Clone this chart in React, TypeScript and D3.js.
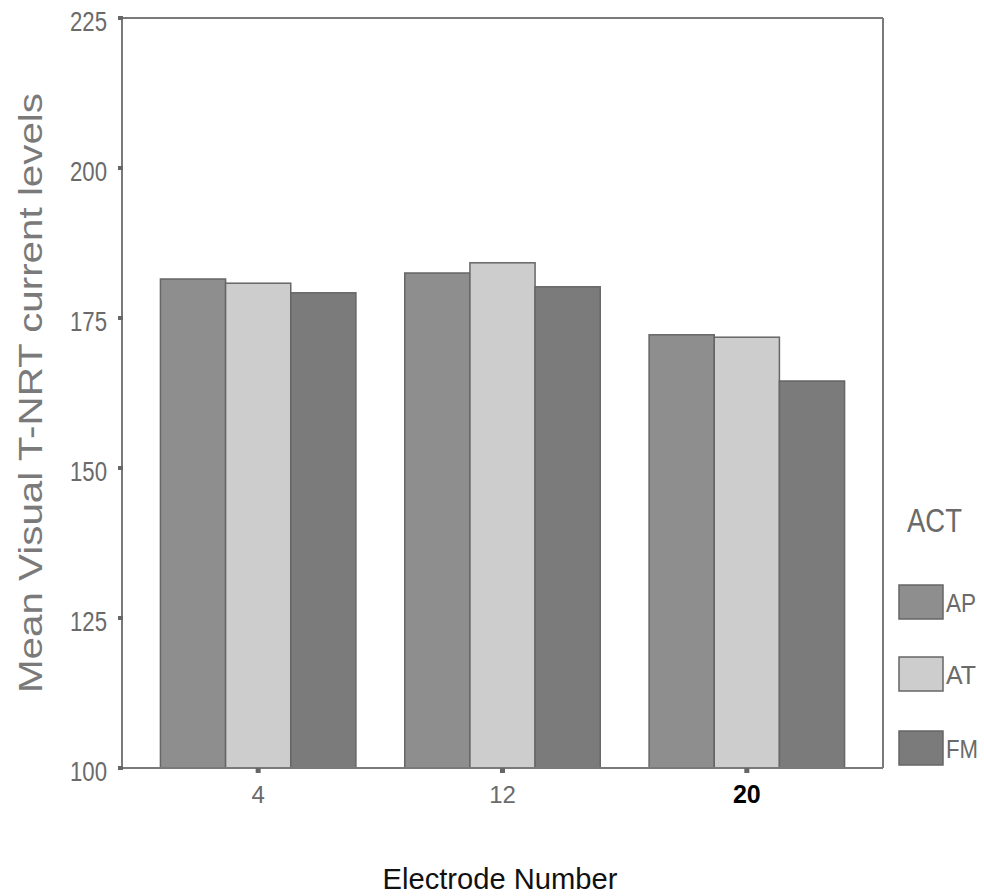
import React from "react";
import * as d3 from "d3";

const categories = ["4", "12", "20"];
const seriesNames = ["AP", "AT", "FM"];
const apValues = [181.5, 182.5, 172.2];
const atValues = [180.8, 184.2, 171.8];
const fmValues = [179.2, 180.2, 164.5];
const yTicks = [100, 125, 150, 175, 200, 225];

const seriesValues = [apValues, atValues, fmValues];
const fills = ["#8e8e8e", "#cdcdcd", "#7b7b7b"];
const FONT = "'Liberation Sans', Arial, Helvetica, sans-serif";

export default function App() {
  const W = 984, H = 896;
  const left = 122, right = 883, top = 18, bottom = 768;
  const y = d3.scaleLinear().domain([100, 225]).range([bottom, top]);
  const x = d3.scaleBand().domain(categories).range([136, 869]).paddingInner(0.2).paddingOuter(0.1);
  const xs = d3.scaleBand().domain(seriesNames).range([0, x.bandwidth()]);
  const axisColor = "#7a7a7a";

  return (
    <svg width={W} height={H} style={{ position: "absolute", left: 0, top: 0, background: "#fff" }}>
      {/* bars */}
      {categories.map((c, ci) => (
        <g key={c} transform={`translate(${x(c)},0)`}>
          {seriesNames.map((s, si) => {
            const v = seriesValues[si][ci];
            return (
              <rect key={s} x={xs(s)} y={y(v)} width={xs.bandwidth()} height={bottom - y(v)}
                fill={fills[si]} stroke="#666" strokeWidth={1.5} />
            );
          })}
        </g>
      ))}
      {/* frame */}
      <line x1={left} x2={right} y1={top} y2={top} stroke={axisColor} strokeWidth={2} />
      <line x1={right} x2={right} y1={top} y2={bottom} stroke={axisColor} strokeWidth={2} />
      <line x1={left} x2={right} y1={bottom} y2={bottom} stroke={axisColor} strokeWidth={2} />
      <line x1={left} x2={left} y1={top} y2={bottom} stroke={axisColor} strokeWidth={2} />
      {/* y ticks */}
      {yTicks.map((t) => (
        <g key={t}>
          <rect x={left - 4} y={y(t) - 2} width={5} height={4} fill="#666" />
          <text x={107} y={y(t) + 13} textAnchor="end" fontFamily={FONT} fontSize={27} fill="#6a6a6a"
            textLength={37} lengthAdjust="spacingAndGlyphs">{t}</text>
        </g>
      ))}
      {/* x ticks */}
      {categories.map((c) => {
        const cx = (x(c) as number) + x.bandwidth() / 2;
        const bold = c === "20";
        return (
          <g key={c}>
            <rect x={cx - 2.5} y={bottom} width={5} height={5} fill="#666" />
            <text x={cx} y={803} textAnchor="middle" fontFamily={FONT} fontSize={bold ? 25 : 24}
              fontWeight={bold ? "bold" : "normal"} fill={bold ? "#000" : "#6a6a6a"}>{c}</text>
          </g>
        );
      })}
      {/* y axis title */}
      <text transform={`translate(42,${(top + bottom) / 2}) rotate(-90)`} textAnchor="middle" fontFamily={FONT} fontSize={34}
        fill="#7a7a7a" textLength={600} lengthAdjust="spacingAndGlyphs">Mean Visual T-NRT current levels</text>
      {/* x axis title */}
      <text x={500} y={889} textAnchor="middle" fontFamily={FONT} fontSize={30} fill="#111"
        textLength={235} lengthAdjust="spacingAndGlyphs">Electrode Number</text>
      {/* legend */}
      <text x={907} y={532} fontFamily={FONT} fontSize={34} fill="#6a6a6a"
        textLength={55} lengthAdjust="spacingAndGlyphs">ACT</text>
      {seriesNames.map((s, si) => {
        const sy = [585, 657, 731][si];
        return (
          <g key={s}>
            <rect x={899} y={sy} width={44} height={34} fill={fills[si]} stroke="#666" strokeWidth={1.5} />
            <text x={946} y={sy + 27} fontFamily={FONT} fontSize={26} fill="#6a6a6a"
              textLength={s === "FM" ? 32 : 30} lengthAdjust="spacingAndGlyphs">{s}</text>
          </g>
        );
      })}
    </svg>
  );
}
